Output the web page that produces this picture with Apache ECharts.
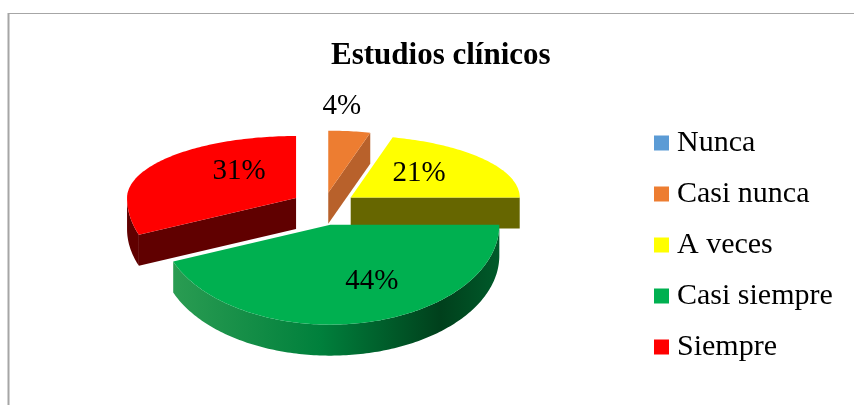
<!DOCTYPE html>
<html>
<head>
<meta charset="utf-8">
<script src="https://cdn.jsdelivr.net/npm/echarts@6/dist/echarts.min.js"></script>
<style>
  html, body { margin: 0; padding: 0; background: #fff; }
  #chart { width: 854px; height: 405px; }
</style>
</head>
<body>
<div id="chart"></div>
<script>
// ===== Data =====
const CATEGORIES = ['Nunca', 'Casi nunca', 'A veces', 'Casi siempre', 'Siempre'];
const VALUES     = [0, 4, 21, 44, 31];

// ===== Style =====
const TOP_COLORS  = ['#5b9bd5', '#ed7d31', '#ffff00', '#00b050', '#ff0000'];
const WALL_COLORS = ['#3f6f9c', '#b8612b', '#666600', null, '#600000'];
const LABEL_NUDGE = [[0, 0], [-16, 0], [-5, -3], [24, 3], [20, -7]];
const FONT_SERIF  = '"Liberation Serif", "Times New Roman", serif';

// pie geometry (pseudo 3D, clockwise from 12 o'clock like Excel)
const CX = 324, CY = 205;
const RX = 169, RY_BACK = 62, RY_FRONT = 100;
const DEPTH = 31;
const EXPLODE = 0.2;

const total = VALUES.reduce((a, b) => a + b, 0);

function pt(ox, oy, deg, r) {
  const t = deg * Math.PI / 180;
  const c = Math.cos(t);
  const ry = c > 0 ? RY_BACK : RY_FRONT;
  return [ox + RX * r * Math.sin(t), oy - ry * r * c];
}

function arc(ox, oy, a0, a1, dy) {
  const pts = [];
  const n = Math.max(2, Math.ceil(a1 - a0));
  for (let k = 0; k <= n; k++) {
    const p = pt(ox, oy, a0 + (a1 - a0) * k / n, 1);
    pts.push([p[0], p[1] + dy]);
  }
  return pts;
}

function greenWall() {
  return new echarts.graphic.LinearGradient(0, 0, 1, 0, [
    { offset: 0, color: '#2a9c52' },
    { offset: 0.45, color: '#00803c' },
    { offset: 0.82, color: '#00401c' },
    { offset: 1, color: '#005a2a' }
  ]);
}

function renderSlice(i, api) {
  const v = api.value(0);
  const children = [];
  if (!v) return { type: 'group', children };
  let cum = 0;
  for (let k = 0; k < i; k++) cum += VALUES[k];
  const a0 = 360 * cum / total;
  const a1 = a0 + 360 * v / total;
  const mid = (a0 + a1) / 2;
  const apex = pt(CX, CY, mid, EXPLODE);
  const ox = apex[0], oy = apex[1];
  const wall = WALL_COLORS[i] || greenWall();

  // cut face at start angle
  if (Math.sin(a0 * Math.PI / 180) < -1e-6) {
    const r = pt(ox, oy, a0, 1);
    children.push({ type: 'polygon', shape: { points: [[ox, oy], r, [r[0], r[1] + DEPTH], [ox, oy + DEPTH]] }, style: { fill: wall } });
  }
  // cut face at end angle
  if (Math.sin(a1 * Math.PI / 180) > 1e-6) {
    const r = pt(ox, oy, a1, 1);
    children.push({ type: 'polygon', shape: { points: [[ox, oy], r, [r[0], r[1] + DEPTH], [ox, oy + DEPTH]] }, style: { fill: wall } });
  }
  // outer wall, front half only
  const w0 = Math.max(a0, 90), w1 = Math.min(a1, 270);
  if (w1 > w0) {
    const topEdge = arc(ox, oy, w0, w1, 0);
    const botEdge = arc(ox, oy, w0, w1, DEPTH).reverse();
    children.push({ type: 'polygon', shape: { points: topEdge.concat(botEdge) }, style: { fill: wall } });
  }
  // top face
  children.push({ type: 'polygon', shape: { points: [[ox, oy]].concat(arc(ox, oy, a0, a1, 0)) }, style: { fill: TOP_COLORS[i] } });

  // percentage label
  const pct = Math.round(v / total * 100) + '%';
  const lp = pt(ox, oy, mid, v < 10 ? 1.4 : 0.55);
  children.push({
    type: 'text', x: lp[0] + LABEL_NUDGE[i][0], y: lp[1] + LABEL_NUDGE[i][1],
    style: { text: pct, fill: '#000', font: '29px ' + FONT_SERIF, align: 'center', verticalAlign: 'middle' }
  });
  return { type: 'group', children };
}

const DRAW_Z = [2, 2, 2, 4, 3];

const chart = echarts.init(document.getElementById('chart'));
chart.setOption({
  animation: false,
  title: {
    text: 'Estudios clínicos',
    left: 326, top: 35,
    textStyle: { fontFamily: FONT_SERIF, fontWeight: 'bold', fontSize: 31, color: '#000' }
  },
  legend: {
    data: CATEGORIES,
    orient: 'vertical',
    left: 654, top: 128, padding: 0,
    icon: 'rect', itemWidth: 15, itemHeight: 15, itemGap: 21,
    textStyle: { fontFamily: FONT_SERIF, fontSize: 30, lineHeight: 30, color: '#000', padding: [0, 0, 0, 3] }
  },
  graphic: [
    { type: 'line', shape: { x1: 8, y1: 13.5, x2: 854, y2: 13.5 }, style: { stroke: '#a6a6a6', lineWidth: 1 }, silent: true },
    { type: 'line', shape: { x1: 8.5, y1: 13, x2: 8.5, y2: 405 }, style: { stroke: '#a6a6a6', lineWidth: 2 }, silent: true }
  ],
  series: CATEGORIES.map((name, i) => ({
    name,
    type: 'custom',
    coordinateSystem: 'none',
    z: DRAW_Z[i],
    itemStyle: { color: TOP_COLORS[i] },
    data: [VALUES[i]],
    renderItem: (params, api) => renderSlice(i, api)
  }))
});
</script>
</body>
</html>
